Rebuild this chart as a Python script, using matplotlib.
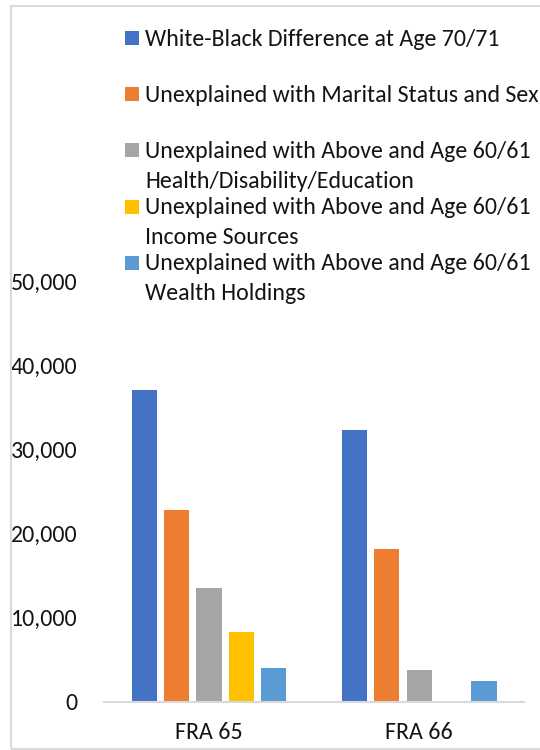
import numpy as np
import matplotlib
matplotlib.use("Agg")
import matplotlib.pyplot as plt
from matplotlib.patches import Rectangle

# data
categories = ["FRA 65", "FRA 66"]
series_labels = [
    "White-Black Difference at Age 70/71",
    "Unexplained with Marital Status and Sex",
    "Unexplained with Above and Age 60/61\nHealth/Disability/Education",
    "Unexplained with Above and Age 60/61\nIncome Sources",
    "Unexplained with Above and Age 60/61\nWealth Holdings",
]
white_black = [37100, 32300]
marital_sex = [22800, 18100]
health_edu = [13500, 3750]
income = [8300, np.nan]
wealth = [4000, 2500]
series_values = [white_black, marital_sex, health_edu, income, wealth]
colors = ["#4472C4", "#ED7D31", "#A5A5A5", "#FFC000", "#5B9BD5"]
yticks = [0, 10000, 20000, 30000, 40000, 50000]

W, H = 540, 750
FONT = ["Carlito", "DejaVu Sans"]
FS = 17.2
TXT = "#141414"

fig = plt.figure(figsize=(W / 100, H / 100), dpi=100)

# light frame round the whole chart area
fig.add_artist(Rectangle((11 / W, 1 / H), 1, 743.5 / H, transform=fig.transFigure,
                         fill=False, edgecolor="#d9d9d9", linewidth=1.5))

ax = fig.add_axes([104 / W, (H - 701.5) / H, 420.3 / W, 420 / H])

x = np.arange(len(categories))
step, width = 0.154, 0.12
for i, (vals, c) in enumerate(zip(series_values, colors)):
    ax.bar(x + (i - 2) * step, vals, width=width, color=c, zorder=2)

ax.set_xlim(-0.5, 1.5)
ax.set_ylim(0, 50000)
ax.set_yticks(yticks)
ax.set_yticklabels([f"{v:,}" for v in yticks])
ax.set_xticks(x)
ax.set_xticklabels(categories)
for lab in ax.get_xticklabels() + ax.get_yticklabels():
    lab.set_family(FONT)
    lab.set_fontsize(FS)
    lab.set_color(TXT)
ax.tick_params(axis="y", length=0, pad=19)
ax.tick_params(axis="x", length=0, pad=15)
for side in ["top", "right", "left"]:
    ax.spines[side].set_visible(False)
ax.spines["bottom"].set_color("#d9d9d9")
ax.spines["bottom"].set_linewidth(1.5)

# legend drawn by hand, entries evenly spaced like the original
first_center = 38.0
entry_step = 56.2
line_step = 30.0
for i, (lab, c) in enumerate(zip(series_labels, colors)):
    cy = first_center + i * entry_step
    fig.add_artist(Rectangle((125 / W, 1 - (cy + 7) / H), 14 / W, 14 / H,
                             transform=fig.transFigure, facecolor=c, edgecolor="none"))
    for k, line in enumerate(lab.split("\n")):
        base = cy + 7.6 + k * line_step
        fig.text(145 / W, 1 - base / H, line, family=FONT, fontsize=FS,
                 color=TXT, va="baseline", ha="left")

fig.savefig("out.png", dpi=100)
